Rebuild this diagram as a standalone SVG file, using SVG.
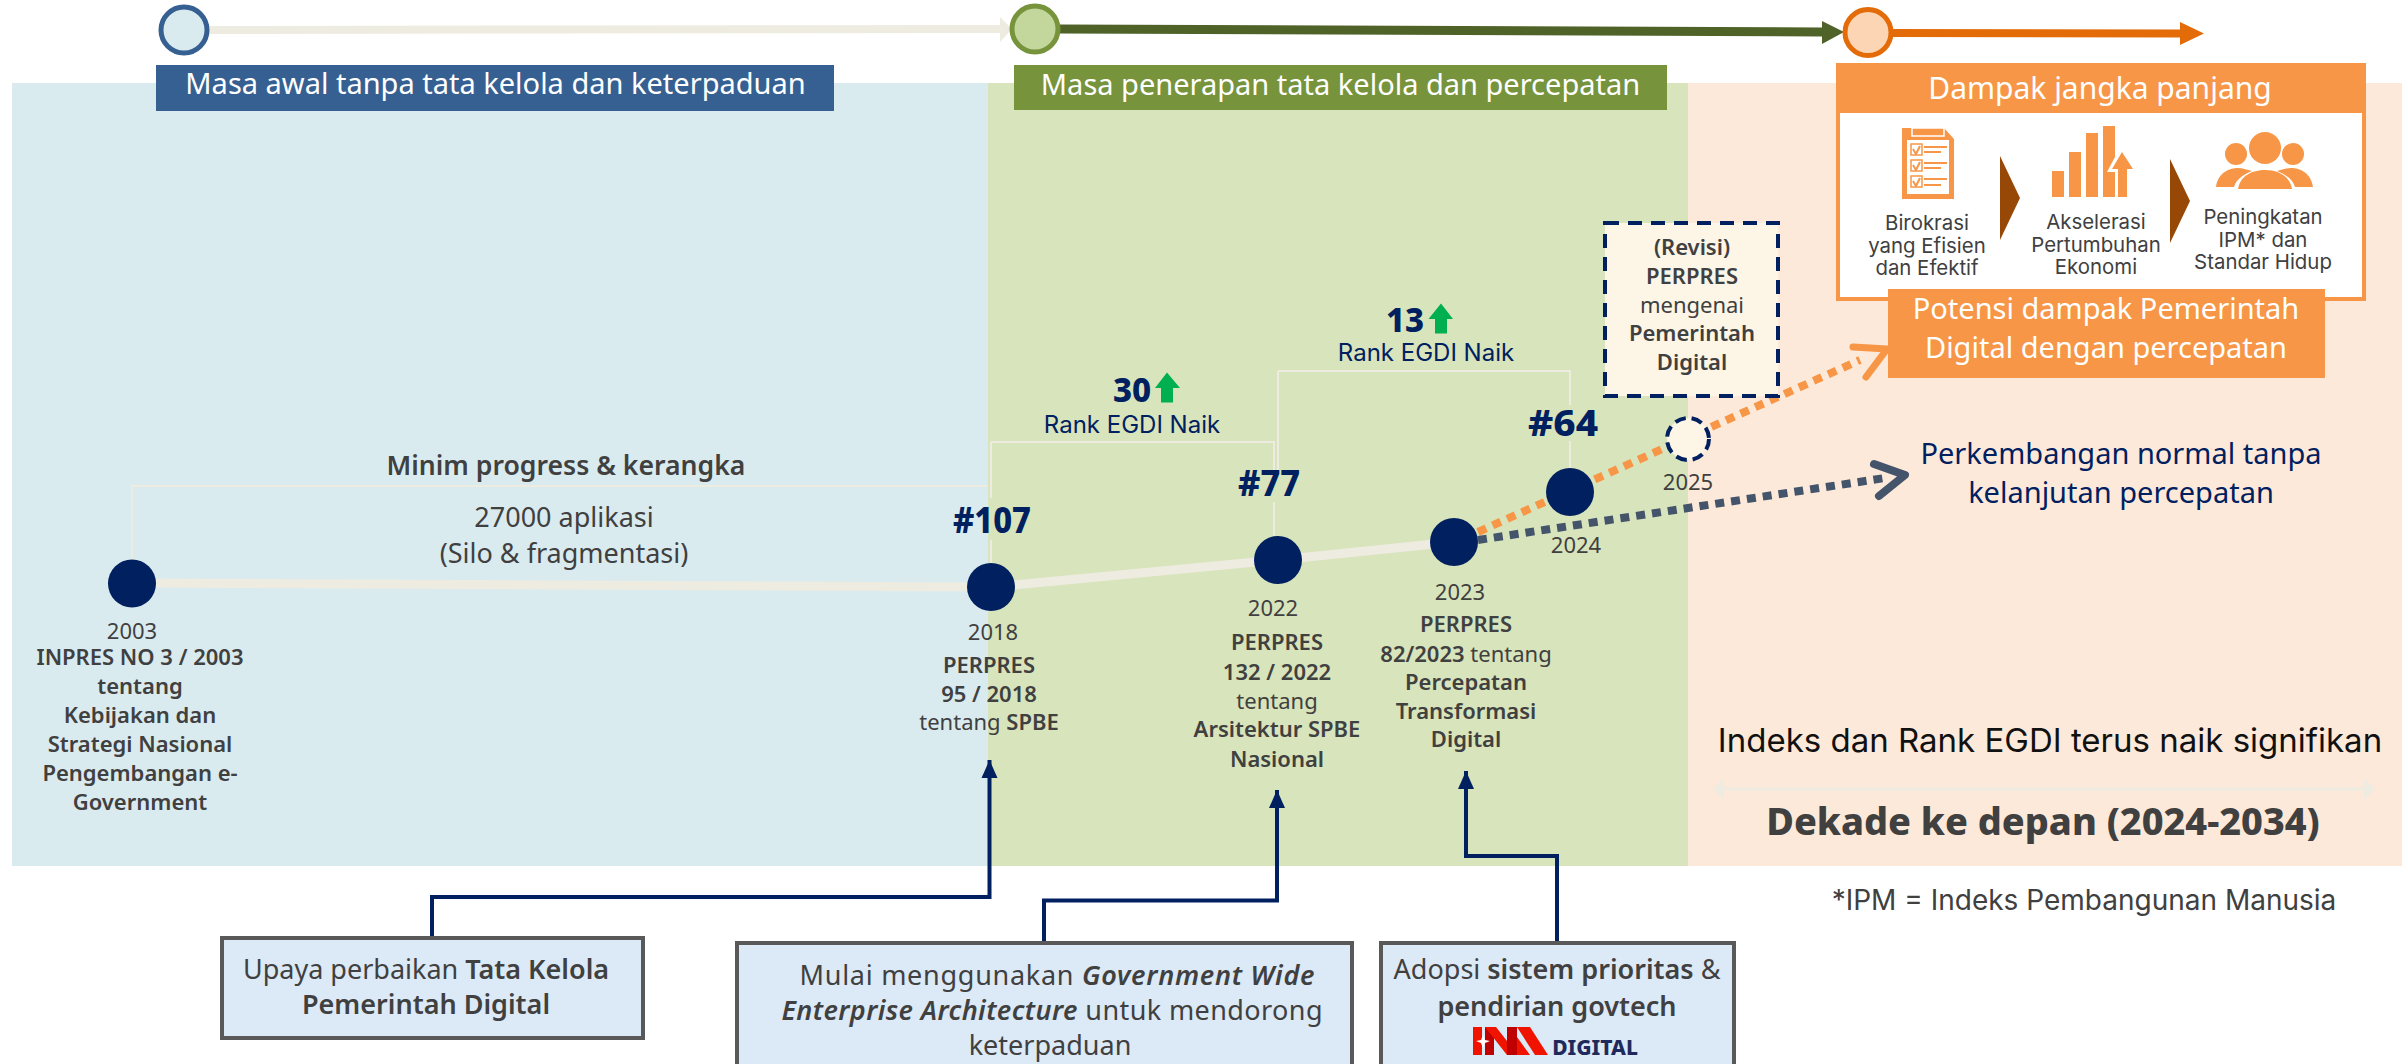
<svg xmlns="http://www.w3.org/2000/svg" width="2402" height="1064" viewBox="0 0 2402 1064">
<defs>
<style>
text{font-family:"Noto Sans","Liberation Sans",sans-serif;fill:#404040;text-anchor:middle}
.p{font-family:Inter,"Noto Sans",sans-serif}
.b{font-weight:600}
.w{fill:#fff}
.n{fill:#002060}
.hd{font-size:29px}
.s{font-size:22px}
.c{font-size:20.400px}
.rk{font-size:36px;font-weight:800;fill:#002060}
.big{font-size:27px}
.dot{fill:#002060}
.thin{fill:none;stroke:#EEECE1;stroke-width:2}
.box{fill:#DCE9F6;stroke:#595959;stroke-width:4}
.nav{fill:none;stroke:#002060;stroke-width:4}
.ic{fill:#F79646}
</style>
<marker id="a" markerUnits="userSpaceOnUse" markerWidth="18" markerHeight="20" refX="18" refY="10" orient="auto"><path d="M0 2L18 10L0 18Z" fill="#002060"/></marker>
</defs>
<g id="bands">
<rect x="12" y="83" width="976" height="783" fill="#DAEBEF"/>
<rect x="988" y="83" width="700" height="783" fill="#D8E4BC"/>
<rect x="1688" y="83" width="714" height="783" fill="#FDE9D9"/>
</g>
<g id="connectors">
<path d="M209 30L1000 29" stroke="#EEECE1" stroke-width="8" fill="none"/><path d="M1000 17V42L1012 29Z" fill="#EEECE1"/>
<path d="M1060 29L1822 32" stroke="#4F6228" stroke-width="9" fill="none"/><path d="M1822 21V44L1844 32Z" fill="#4F6228"/>
<path d="M1893 33L2180 33.500" stroke="#E36C09" stroke-width="8" fill="none"/><path d="M2180 22V45L2204 33.500Z" fill="#E36C09"/>
<path d="M132 583L991 587L1278 560L1454 542" stroke="#EEECE1" stroke-width="9" fill="none"/>
<path d="M132 560V486H987" class="thin"/>
<path d="M991 442H1274V470M1274 502V536M991 442V498M991 540V564" class="thin"/>
<path d="M1278 371H1570V405M1570 441V470M1278 371V470" class="thin"/>
<path d="M1478 532L1860 360" stroke="#F79646" stroke-width="8" stroke-dasharray="9 7" fill="none"/>
<path d="M1853 347L1887 349L1866 377" stroke="#F79646" stroke-width="7" stroke-linecap="round" stroke-linejoin="round" fill="none"/>
<path d="M1478 540L1885 478" stroke="#44546A" stroke-width="8" stroke-dasharray="9 7" fill="none"/>
<path d="M1874 464L1905 475L1879 496" stroke="#44546A" stroke-width="8" stroke-linecap="round" stroke-linejoin="round" fill="none"/>
<path d="M432 938V897H989.500V760" class="nav" marker-end="url(#a)"/>
<path d="M1044 943V900.500H1277V790" class="nav" marker-end="url(#a)"/>
<path d="M1557 943V856H1466V771" class="nav" marker-end="url(#a)"/>
<path d="M1719 789H2369" stroke="#EEECE1" stroke-width="3"/><path d="M1713 789L1724 778V800Z" fill="#EEECE1"/><path d="M2375 789L2364 778V800Z" fill="#EEECE1"/>
</g>
<g id="era1"><circle cx="184" cy="30" r="23" fill="#DAEBEF" stroke="#376092" stroke-width="5"/>
<rect x="156" y="65" width="678" height="46" fill="#376092"/><text class="hd w" x="495.500" y="94">Masa awal tanpa tata kelola dan keterpaduan</text></g>
<g id="era2"><circle cx="1035" cy="29" r="23" fill="#C3D69B" stroke="#77933C" stroke-width="5"/>
<rect x="1014" y="65" width="653" height="45" fill="#77933C"/><text class="hd w" x="1340.500" y="94.500">Masa penerapan tata kelola dan percepatan</text></g>
<g id="era3"><circle cx="1868" cy="32.500" r="23" fill="#FCD5B5" stroke="#E36C09" stroke-width="5"/></g>
<g id="dampak">
<rect x="1838" y="65" width="526" height="234" fill="#fff" stroke="#F79646" stroke-width="4"/>
<rect x="1836" y="63" width="530" height="50" fill="#F79646"/>
<text class="w" x="2100" y="99" style="font-size:30px">Dampak jangka panjang</text>
<g id="icon-clipboard">
<path class="ic" d="M1902 128H1944L1954 139V199H1902Z"/><rect x="1907" y="140" width="42" height="54" fill="#fff"/>
<rect x="1911" y="144" width="11" height="11" fill="#fff" stroke="#F79646" stroke-width="1.500"/><rect x="1911" y="160" width="11" height="11" fill="#fff" stroke="#F79646" stroke-width="1.500"/><rect x="1911" y="176" width="11" height="11" fill="#fff" stroke="#F79646" stroke-width="1.500"/>
<path d="M1924 147H1947M1924 152H1941M1924 163H1947M1924 168H1941M1924 179H1947M1924 185H1941M1913 149l3 5l4-8M1913 165l3 5l4-8M1913 181l3 5l4-8" stroke="#F79646" stroke-width="2" fill="none"/>
<rect x="1912" y="128" width="32" height="8" fill="#F79646" stroke="#fff" stroke-width="1.500"/>
</g>
<path d="M2000 156L2020 198L2000 240Z" fill="#974706"/>
<g id="icon-chart" class="ic"><rect x="2052" y="171" width="12" height="26"/><rect x="2069" y="152" width="12" height="45"/><rect x="2086" y="133" width="12" height="64"/><path d="M2103 126H2115V157L2107 172H2115V197H2103Z"/><path d="M2122 152L2133 169H2127V197H2118V169H2112Z"/></g>
<path d="M2170 159L2190 201L2170 243Z" fill="#974706"/>
<g id="icon-people" class="ic"><circle cx="2236" cy="154" r="11"/><circle cx="2265" cy="148" r="16"/><circle cx="2293" cy="154" r="11"/><path d="M2216 187C2218 172 2230 168 2238 168C2242 168 2248 170 2252 171C2242 175 2236 180 2234 187Z"/><path d="M2313 187C2311 172 2299 168 2291 168C2287 168 2281 170 2277 171C2287 175 2293 180 2295 187Z"/><path d="M2238 189C2240 176 2252 170 2265 170C2278 170 2290 176 2292 189Z"/></g>
<g><text class="c p" x="1927" y="230">Birokrasi</text><text class="c p" x="1927" y="253">yang Efisien</text><text class="c p" x="1927" y="275">dan Efektif</text>
<text class="c p" x="2096" y="229">Akselerasi</text><text class="c p" x="2096" y="252">Pertumbuhan</text><text class="c p" x="2096" y="274">Ekonomi</text>
<text class="c p" x="2263" y="224">Peningkatan</text><text class="c p" x="2263" y="247">IPM* dan</text><text class="c p" x="2263" y="269">Standar Hidup</text></g>
</g>
<g id="potensi"><rect x="1888" y="289" width="437" height="89" fill="#F79646"/><text class="hd w" x="2106" y="319">Potensi dampak Pemerintah</text><text class="hd w" x="2106" y="358">Digital dengan percepatan</text></g>
<g id="normal"><text class="hd n" x="2121" y="464">Perkembangan normal tanpa</text><text class="hd n" x="2121" y="503">kelanjutan percepatan</text></g>
<g id="revisi"><rect x="1605" y="223" width="173" height="173" fill="#FDF5E6" stroke="#002060" stroke-width="4" stroke-dasharray="14 9"/>
<text class="s b" x="1692" y="255">(Revisi)</text><text class="s b" x="1692" y="284">PERPRES</text><text class="s" x="1692" y="313">mengenai</text><text class="s b" x="1692" y="341">Pemerintah</text><text class="s b" x="1692" y="370">Digital</text></g>
<g id="n2003"><circle class="dot" cx="132" cy="583.500" r="24"/><text class="s" x="132" y="639">2003</text>
<text class="s b" x="140" y="665">INPRES NO 3 / 2003</text><text class="s b" x="140" y="694">tentang</text><text class="s b" x="140" y="723">Kebijakan dan</text><text class="s b" x="140" y="752">Strategi Nasional</text><text class="s b" x="140" y="781">Pengembangan e-</text><text class="s b" x="140" y="810">Government</text></g>
<g id="n2018"><circle class="dot" cx="991" cy="587" r="24"/><text class="rk" x="992" y="533" textLength="78" lengthAdjust="spacingAndGlyphs">#107</text><text class="s" x="993" y="640">2018</text>
<text class="s b" x="989" y="673">PERPRES</text><text class="s b" x="989" y="702">95 / 2018</text><text class="s" x="989" y="730">tentang <tspan class="b">SPBE</tspan></text></g>
<g id="n2022"><circle class="dot" cx="1278" cy="560" r="24"/><text class="rk" x="1269" y="496" textLength="62" lengthAdjust="spacingAndGlyphs">#77</text><text class="s" x="1273" y="616">2022</text>
<text class="s b" x="1277" y="650">PERPRES</text><text class="s b" x="1277" y="680">132 / 2022</text><text class="s" x="1277" y="709">tentang</text><text class="s b" x="1277" y="737">Arsitektur SPBE</text><text class="s b" x="1277" y="767">Nasional</text></g>
<g id="n2023"><circle class="dot" cx="1454" cy="542" r="24"/><text class="s" x="1460" y="600">2023</text>
<text class="s b" x="1466" y="632">PERPRES</text><text class="s" x="1466" y="662"><tspan class="b">82/2023</tspan> tentang</text><text class="s b" x="1466" y="690">Percepatan</text><text class="s b" x="1466" y="719">Transformasi</text><text class="s b" x="1466" y="747">Digital</text></g>
<g id="n2024"><circle class="dot" cx="1570" cy="492" r="24"/><text class="rk" x="1563" y="436" textLength="70" lengthAdjust="spacingAndGlyphs">#64</text><text class="s" x="1576" y="553">2024</text></g>
<g id="n2025"><circle cx="1688" cy="439" r="21" fill="#FDF5E6" stroke="#002060" stroke-width="4" stroke-dasharray="11 6"/><text class="s" x="1688" y="490">2025</text></g>
<g id="minim"><text class="b" x="566" y="475" style="font-size:26.600px">Minim progress &amp; kerangka</text><text class="big" x="564" y="527">27000 aplikasi</text><text class="big" x="564" y="563">(Silo &amp; fragmentasi)</text></g>
<g id="rank30"><text x="1132" y="402" style="font-size:33px;font-weight:800;fill:#002060">30</text><path d="M1167 372.500L1180 388H1173V402.500H1161V388H1155Z" fill="#00B050"/><text class="p n" x="1132" y="433" style="font-size:24px">Rank EGDI Naik</text></g>
<g id="rank13"><text x="1405" y="332" style="font-size:33px;font-weight:800;fill:#002060">13</text><path d="M1441 303.500L1453 319H1447V333.500H1435V319H1428.500Z" fill="#00B050"/><text class="p n" x="1426" y="361" style="font-size:24px">Rank EGDI Naik</text></g>
<g id="decade"><text class="p" x="2050" y="752" style="font-size:33px;fill:#111">Indeks dan Rank EGDI terus naik signifikan</text><text x="2043" y="835" style="font-size:37.800px;font-weight:800">Dekade ke depan (2024-2034)</text><text class="p" x="2084" y="910" style="font-size:28px">*IPM = Indeks Pembangunan Manusia</text></g>
<g id="box1"><rect class="box" x="222" y="938" width="421" height="100"/><text class="big" x="426" y="979">Upaya perbaikan <tspan class="b">Tata Kelola</tspan></text><text class="big b" x="426" y="1014">Pemerintah Digital</text></g>
<g id="box2"><rect class="box" x="737" y="943" width="615" height="130"/><text class="big" x="1057" y="985" textLength="515">Mulai menggunakan <tspan class="b" font-style="italic">Government Wide</tspan></text><text class="big" x="1052" y="1020" textLength="541"><tspan class="b" font-style="italic">Enterprise Architecture</tspan> untuk mendorong</text><text class="big" x="1050" y="1055">keterpaduan</text></g>
<g id="box3"><rect class="box" x="1381" y="943" width="353" height="130"/><text class="big" x="1557" y="979">Adopsi <tspan class="b">sistem prioritas</tspan> &amp;</text><text class="big b" x="1557" y="1016">pendirian govtech</text>
<g id="ina-logo"><rect x="1473" y="1027" width="9" height="28" fill="#F01400"/><rect x="1485" y="1027" width="9" height="28" fill="#C00000"/><path d="M1485 1027H1496L1518 1055H1507Z" fill="#F01400"/><rect x="1507" y="1027" width="10" height="28" fill="#C00000"/><path d="M1517 1027H1530L1548 1055H1535Z" fill="#F01400"/><path d="M1517 1037L1530 1055H1517Z" fill="#F01400"/><path d="M1483 1035L1485 1040L1490 1041L1485 1043L1483 1048L1481 1043L1476 1041L1481 1040Z" fill="#fff"/></g>
<text x="1595" y="1055" style="font-size:21px;font-weight:800;fill:#1F2A5C">DIGITAL</text></g>
</svg>
